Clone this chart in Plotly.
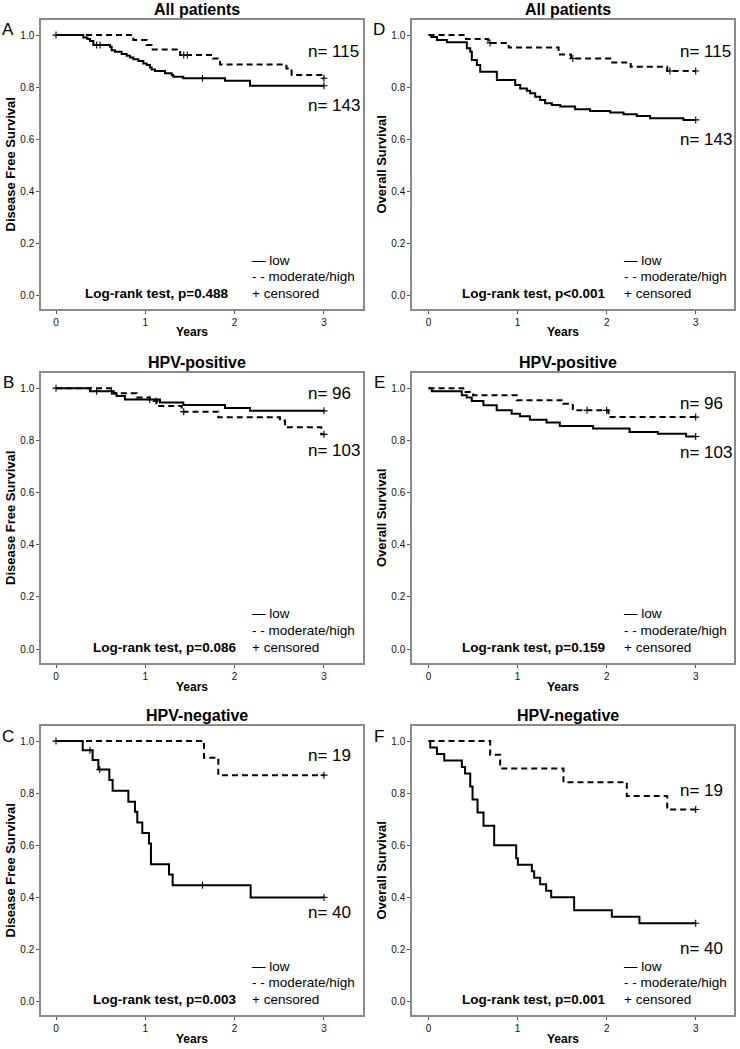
import plotly.graph_objects as go

W, H = 740, 1049
FONT = "Liberation Sans, Arial, sans-serif"

# ---- event times (years) and survival after each step ----
# A: all patients, disease free survival
a_low_t = [0.306, 0.351, 0.381, 0.418, 0.604, 0.623, 0.66, 0.735, 0.791, 0.828, 0.866, 0.922,
           0.978, 1.015, 1.052, 1.071, 1.108, 1.22, 1.295, 1.313, 1.425, 1.892, 2.172]
a_low_s = [0.991, 0.985, 0.977, 0.962, 0.955, 0.942, 0.936, 0.927, 0.921, 0.914, 0.907, 0.900,
           0.891, 0.885, 0.875, 0.868, 0.862, 0.853, 0.847, 0.840, 0.834, 0.824, 0.805]
a_low_cens = [0.0, 0.455, 0.493, 1.64, 3.0]
a_mod_t = [0.866, 1.015, 1.07, 1.39, 1.76, 1.836, 2.58, 2.638, 2.99]
a_mod_s = [0.981, 0.962, 0.945, 0.923, 0.91, 0.887, 0.872, 0.847, 0.834]
a_mod_cens = [1.43, 1.47, 3.0]

# B: HPV-positive, disease free survival
b_low_t = [0.38, 0.642, 0.679, 0.772, 1.164, 1.425, 1.892, 2.172]
b_low_s = [0.988, 0.979, 0.97, 0.956, 0.945, 0.935, 0.924, 0.913]
b_low_cens = [0.0, 0.455, 0.62, 1.05, 3.0]
b_mod_t = [0.642, 0.903, 1.05, 1.127, 1.407, 1.817, 2.507, 2.563, 2.97]
b_mod_s = [0.98, 0.964, 0.951, 0.932, 0.91, 0.888, 0.876, 0.85, 0.823]
b_mod_cens = [1.12, 1.43, 3.0]

# C: HPV-negative, disease free survival
c_low_t = [0.299, 0.41, 0.474, 0.597, 0.634, 0.81, 0.884, 0.91, 0.966, 1.041, 1.063, 1.265,
           1.306, 2.179]
c_low_s = [0.965, 0.927, 0.891, 0.85, 0.809, 0.767, 0.728, 0.687, 0.647, 0.606, 0.527, 0.487,
           0.446, 0.399]
c_low_cens = [0.0, 0.38, 0.49, 1.64, 3.0]
c_mod_t = [1.657, 1.817]
c_mod_s = [0.936, 0.869]
c_mod_cens = [3.0]

# D: all patients, overall survival
d_low_t = [0.03, 0.094, 0.206, 0.43, 0.468, 0.486, 0.542, 0.58, 0.767, 0.973, 1.029, 1.104,
           1.141, 1.197, 1.253, 1.309, 1.384, 1.478, 1.646, 1.814, 2.039, 2.189, 2.338, 2.488,
           2.862]
d_low_s = [0.993, 0.981, 0.972, 0.949, 0.936, 0.904, 0.885, 0.859, 0.827, 0.808, 0.795, 0.786,
           0.776, 0.763, 0.75, 0.738, 0.731, 0.725, 0.715, 0.708, 0.702, 0.696, 0.689, 0.68,
           0.674]
d_low_cens = [3.0]
d_mod_t = [0.42, 0.67, 0.90, 1.46, 1.60, 2.04, 2.27, 2.68]
d_mod_s = [0.985, 0.97, 0.952, 0.925, 0.91, 0.895, 0.878, 0.862]
d_mod_cens = [0.69, 1.62, 2.71, 3.0]

# E: HPV-positive, overall survival
e_low_t = [0.037, 0.373, 0.429, 0.485, 0.616, 0.765, 0.933, 1.026, 1.138, 1.325, 1.474, 1.847,
           2.257, 2.575, 2.892]
e_low_s = [0.988, 0.973, 0.964, 0.951, 0.934, 0.915, 0.902, 0.892, 0.879, 0.868, 0.855, 0.845,
           0.832, 0.825, 0.815]
e_low_cens = [3.0]
e_mod_t = [0.39, 0.50, 0.99, 1.51, 1.62, 2.02]
e_mod_s = [0.985, 0.973, 0.954, 0.94, 0.915, 0.889]
e_mod_cens = [1.78, 2.0, 3.0]

# F: HPV-negative, overall survival
f_low_t = [0.019, 0.094, 0.176, 0.374, 0.41, 0.468, 0.494, 0.55, 0.617, 0.737, 0.984, 1.003,
           1.16, 1.186, 1.253, 1.32, 1.377, 1.635, 2.058, 2.368]
f_low_s = [0.975, 0.95, 0.925, 0.90, 0.875, 0.825, 0.775, 0.725, 0.675, 0.60, 0.55, 0.525,
           0.50, 0.475, 0.45, 0.425, 0.40, 0.35, 0.325, 0.30]
f_low_cens = [3.0]
f_mod_t = [0.692, 0.804, 1.515, 2.226, 2.68]
f_mod_s = [0.947, 0.895, 0.842, 0.789, 0.737]
f_mod_cens = [3.0]

x_ticks = [0, 1, 2, 3]
y_ticks = [0.0, 0.2, 0.4, 0.6, 0.8, 1.0]

panels = [
    dict(letter="A", title="All patients", ytitle="Disease Free Survival",
         low=(a_low_t, a_low_s, a_low_cens), mod=(a_mod_t, a_mod_s, a_mod_cens),
         n_top="n= 115", n_bot="n= 143", p="Log-rank test, p=0.488"),
    dict(letter="B", title="HPV-positive", ytitle="Disease Free Survival",
         low=(b_low_t, b_low_s, b_low_cens), mod=(b_mod_t, b_mod_s, b_mod_cens),
         n_top="n= 96", n_bot="n= 103", p="Log-rank test, p=0.086"),
    dict(letter="C", title="HPV-negative", ytitle="Disease Free Survival",
         low=(c_low_t, c_low_s, c_low_cens), mod=(c_mod_t, c_mod_s, c_mod_cens),
         n_top="n= 19", n_bot="n= 40", p="Log-rank test, p=0.003"),
    dict(letter="D", title="All patients", ytitle="Overall Survival",
         low=(d_low_t, d_low_s, d_low_cens), mod=(d_mod_t, d_mod_s, d_mod_cens),
         n_top="n= 115", n_bot="n= 143", p="Log-rank test, p<0.001"),
    dict(letter="E", title="HPV-positive", ytitle="Overall Survival",
         low=(e_low_t, e_low_s, e_low_cens), mod=(e_mod_t, e_mod_s, e_mod_cens),
         n_top="n= 96", n_bot="n= 103", p="Log-rank test, p=0.159"),
    dict(letter="F", title="HPV-negative", ytitle="Overall Survival",
         low=(f_low_t, f_low_s, f_low_cens), mod=(f_mod_t, f_mod_s, f_mod_cens),
         n_top="n= 19", n_bot="n= 40", p="Log-rank test, p=0.001"),
]

# layout geometry (pixels)
col_px = [(41, 363), (412, 734)]
row_px = [(20, 309), (373, 663), (726, 1015)]
x_ranges = [[-0.168, 3.437], [-0.186, 3.43]]
y_range = [-0.053, 1.058]
n_y = [(0.935, 0.728), (0.98, 0.76), (0.946, 0.342),
       (0.935, 0.598), (0.942, 0.754), (0.81, 0.204)]
p_x = [1.95, 2.04, 2.04, 2.005, 2.005, 2.005]


def step_at(ts, ss, t):
    s = 1.0
    for ti, si in zip(ts, ss):
        if ti <= t:
            s = si
    return s


def paper_note(text, px, py, size, angle=0):
    return dict(text=text, x=px / W, y=1 - py / H, xref="paper", yref="paper",
                xanchor="center", yanchor="middle", showarrow=False, textangle=angle,
                font=dict(family=FONT, size=size, color="black"))


fig = go.Figure()
ann = []
layout = {}

for i, p in enumerate(panels):
    col, row = i // 3, i % 3
    k = "" if i == 0 else str(i + 1)
    xl, xr = col_px[col]
    yt, yb = row_px[row]
    layout["xaxis" + k] = dict(
        domain=[xl / W, xr / W], range=x_ranges[col], anchor="y" + k,
        tickvals=x_ticks, ticks="outside", ticklen=3, tickcolor="#555",
        showline=True, mirror=True, linecolor="#8a8a8a", linewidth=1.5,
        showgrid=False, zeroline=False,
        tickfont=dict(family=FONT, size=10, color="#111"))
    layout["yaxis" + k] = dict(
        domain=[1 - yb / H, 1 - yt / H], range=y_range, anchor="x" + k,
        tickvals=y_ticks, tickformat=".1f", ticks="outside", ticklen=3, tickcolor="#555",
        showline=True, mirror=True, linecolor="#8a8a8a", linewidth=1.5,
        showgrid=False, zeroline=False,
        tickfont=dict(family=FONT, size=10, color="#111"))

    for key, dash in (("low", "solid"), ("mod", "6px,4px")):
        ts, ss, cens = p[key]
        fig.add_trace(go.Scatter(
            x=[0.0] + ts + [3.0], y=[1.0] + ss + [ss[-1]], mode="lines",
            line=dict(color="black", width=2, shape="hv", dash=dash),
            xaxis="x" + k, yaxis="y" + k, showlegend=False, hoverinfo="skip"))
        fig.add_trace(go.Scatter(
            x=cens, y=[step_at(ts, ss, c) for c in cens], mode="markers",
            marker=dict(symbol="cross-thin", size=5, line=dict(color="black", width=1.1)),
            xaxis="x" + k, yaxis="y" + k, showlegend=False, hoverinfo="skip"))

    xc = (xl + xr) / 2
    ann.append(paper_note("<b>%s</b>" % p["title"], xc - 5, [9, 362, 715][row], 16))
    ann.append(paper_note(p["letter"], xl - 33, yt + 10, 17))
    ann.append(paper_note("<b>%s</b>" % p["ytitle"], xl - 31, (yt + yb) / 2, 13, -90))
    ann.append(paper_note("<b>Years</b>", xc - 10, [332, 687, 1039][row], 12))

    xa, ya = "x" + k, "y" + k
    ann.append(dict(text=p["n_top"], x=2.8, y=n_y[i][0], xref=xa, yref=ya, xanchor="left",
                    yanchor="middle", showarrow=False,
                    font=dict(family=FONT, size=17, color="black")))
    ann.append(dict(text=p["n_bot"], x=2.8, y=n_y[i][1], xref=xa, yref=ya, xanchor="left",
                    yanchor="middle", showarrow=False,
                    font=dict(family=FONT, size=17, color="black")))
    for txt, yy in (("\u2014 low", 0.135), ("- - moderate/high", 0.071), ("+ censored", 0.008)):
        ann.append(dict(text=txt, x=2.17, y=yy, xref=xa, yref=ya, xanchor="left",
                        yanchor="middle", showarrow=False,
                        font=dict(family=FONT, size=13.5, color="black")))
    ann.append(dict(text="<b>%s</b>" % p["p"], x=p_x[i], y=0.008, xref=xa, yref=ya,
                    xanchor="right", yanchor="middle", showarrow=False,
                    font=dict(family=FONT, size=13.5, color="black")))

fig.update_layout(width=W, height=H, margin=dict(l=0, r=0, t=0, b=0),
                  plot_bgcolor="white", paper_bgcolor="white",
                  annotations=ann, **layout)
# page body has a default 8px margin; drop it so the figure sits at the window origin
fig.write_html("out.html", config={"displayModeBar": False},
               post_script="document.body.style.margin='0';")
